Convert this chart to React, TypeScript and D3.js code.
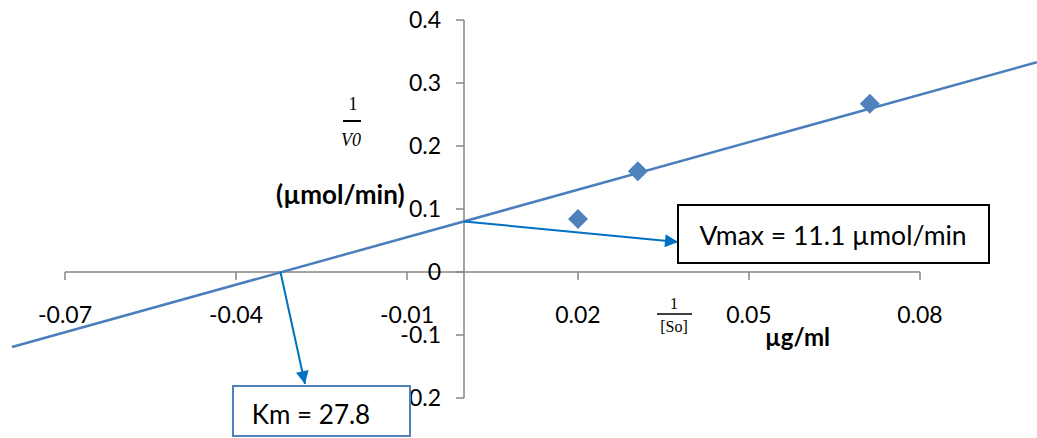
import React from "react";
import * as d3 from "d3";

// Lineweaver-Burk data
const invS = [0.02, 0.0305, 0.0712];
const invV = [0.084, 0.16, 0.267];
// fitted line, read at the two ends of the plot
const lineX = [-0.0793, 0.1005];
const lineY = [-0.119, 0.333];
const xTicks = [-0.07, -0.04, -0.01, 0.02, 0.05, 0.08];
const yTicks = [-0.2, -0.1, 0, 0.1, 0.2, 0.3, 0.4];
const yIntercept = 0.0803;
const xIntercept = -0.0322;

const W = 1037;
const H = 438;
const sans = "Lato, 'Open Sans', sans-serif";
const serif = "'Liberation Serif', 'DejaVu Serif', serif";

export default function App() {
  const x = d3.scaleLinear().domain([-0.07, 0.08]).range([65, 920]);
  const y = d3.scaleLinear().domain([-0.2, 0.4]).range([398, 20]);
  const x0 = x(0);
  const y0 = y(0);

  const line = d3
    .line<number>()
    .x((d) => x(d))
    .y((_, i) => y(lineY[i]));

  const diamond = d3.symbol().type(d3.symbolSquare).size(200)();

  const fmt = (v: number) => (v === 0 ? "0" : String(v));

  return (
    <svg
      width={W}
      height={H}
      style={{ position: "absolute", left: 0, top: 0, background: "#fff" }}
    >
      <defs>
        <marker
          id="arr"
          viewBox="0 0 10 10"
          refX="10"
          refY="5"
          markerWidth="15"
          markerHeight="13"
          markerUnits="userSpaceOnUse"
          orient="auto"
        >
          <path d="M0,0L10,5L0,10Z" fill="#0070C0" />
        </marker>
      </defs>

      {/* x axis */}
      <line x1={x(-0.07)} x2={x(0.08)} y1={y0} y2={y0} stroke="#868686" strokeWidth={1.5} />
      {xTicks.map((t) => (
        <g key={"x" + t}>
          <line x1={x(t)} x2={x(t)} y1={y0} y2={y0 + 8} stroke="#868686" strokeWidth={1.5} />
          <text x={x(t)} y={y0 + 51} textAnchor="middle" fontFamily={sans} fontSize={23}>
            {fmt(t)}
          </text>
        </g>
      ))}

      {/* y axis */}
      <line x1={x0} x2={x0} y1={y(0.4)} y2={y(-0.2)} stroke="#868686" strokeWidth={1.5} />
      {yTicks.map((t) => (
        <g key={"y" + t}>
          <line x1={x0 - 8} x2={x0} y1={y(t)} y2={y(t)} stroke="#868686" strokeWidth={1.5} />
          <text x={x0 - 23} y={y(t) + 8} textAnchor="end" fontFamily={sans} fontSize={23}>
            {fmt(t)}
          </text>
        </g>
      ))}

      {/* trend line */}
      <path d={line(lineX) || ""} fill="none" stroke="#4A7EBB" strokeWidth={2.5} />

      {/* points */}
      {invS.map((s, i) => (
        <path
          key={i}
          d={diamond || ""}
          transform={`translate(${x(s)},${y(invV[i])}) rotate(45)`}
          fill="#4F81BD"
        />
      ))}

      {/* y axis title */}
      <text x={353} y={110} textAnchor="middle" fontFamily={serif} fontSize={18}>1</text>
      <line x1={343} x2={361} y1={121} y2={121} stroke="#000" strokeWidth={2} />
      <text x={351} y={146} textAnchor="middle" fontFamily={serif} fontStyle="italic" fontSize={18}>
        V0
      </text>
      <text x={276} y={204} fontFamily={sans} fontWeight="bold" fontSize={26}>
        (µmol/min)
      </text>

      {/* x axis title */}
      <text x={674} y={309} textAnchor="middle" fontFamily={serif} fontSize={16}>1</text>
      <line x1={657} x2={692} y1={314} y2={314} stroke="#000" strokeWidth={1.5} />
      <text x={674} y={332} textAnchor="middle" fontFamily={serif} fontSize={16}>[So]</text>
      <text x={765} y={346} fontFamily={sans} fontWeight="bold" fontSize={24}>
        µg/ml
      </text>

      {/* Vmax annotation */}
      <line
        x1={x0}
        y1={y(yIntercept)}
        x2={678}
        y2={242}
        stroke="#0070C0"
        strokeWidth={2}
        markerEnd="url(#arr)"
      />
      <rect x={678} y={205} width={311} height={58} fill="#fff" stroke="#000" strokeWidth={2} />
      <text x={833} y={245} textAnchor="middle" fontFamily={sans} fontSize={26.5}>
        Vmax = 11.1 µmol/min
      </text>

      {/* Km annotation */}
      <line
        x1={x(xIntercept)}
        y1={y0}
        x2={305}
        y2={384}
        stroke="#0070C0"
        strokeWidth={2}
        markerEnd="url(#arr)"
      />
      <rect x={233} y={386} width={177} height={50} fill="#fff" stroke="#4F81BD" strokeWidth={2} />
      <text x={311} y={424} textAnchor="middle" fontFamily={sans} fontSize={26}>
        Km = 27.8
      </text>
    </svg>
  );
}
